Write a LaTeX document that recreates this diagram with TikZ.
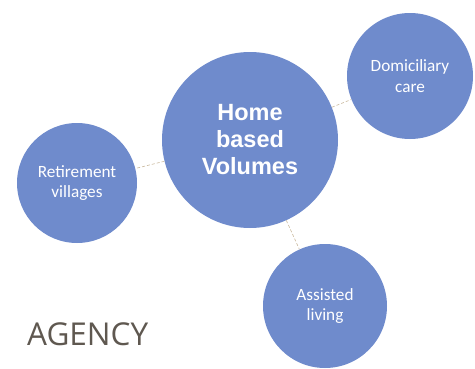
\documentclass[tikz,border=0pt]{standalone}
\usepackage{fontspec}
\setmainfont{Carlito}
\newfontfamily\headfont{Liberation Sans}
\newfontfamily\titlefont{Open Sans}
\definecolor{bubblefill}{HTML}{6F8BCC}
\definecolor{linkcol}{HTML}{C9B89C}
\definecolor{titlecol}{HTML}{5F5850}
\begin{document}
\begin{tikzpicture}[x=1pt,y=1pt,
    bubble/.style = {circle,fill=bubblefill,draw=none,inner sep=0pt,
                     text=white,align=center,font=\fontsize{17.2}{20.5}\selectfont},
    link/.style = {draw=linkcol,densely dashed,line width=0.6pt}]
                \useasboundingbox (0,0) rectangle (475,368);

                \node[bubble,minimum size=176pt,
                      font=\headfont\bfseries\fontsize{23.5}{27}\selectfont]
                    (home) at (250,228) {Home\\based\\Volumes};
                \node[bubble,minimum size=120pt]
                    (retire) at (77,185) {Retirement\\villages};
                \node[bubble,minimum size=126pt]
                    (domic) at (410,292) {Domiciliary\\care};
                \node[bubble,minimum size=124pt]
                    (assist) at (325,62) {Assisted\\living};

                \draw[link] (home) -- (retire);
                \draw[link] (home) -- (domic);
                \draw[link] (home) -- (assist);

                \node[anchor=base west,inner sep=0pt,text=titlecol,
                      font=\titlefont\fontsize{31.5}{36}\selectfont]
                    (agency) at (27,23) {AGENCY};
            \end{tikzpicture}
\end{document}
